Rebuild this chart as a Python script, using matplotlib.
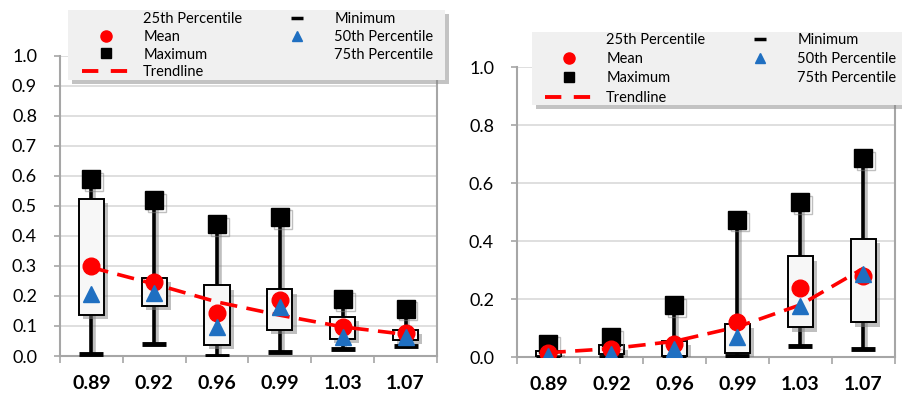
import matplotlib
matplotlib.use("Agg")
import matplotlib.pyplot as plt
import matplotlib.patheffects as pe
from matplotlib.lines import Line2D

plt.rcParams['font.family'] = ['Lato', 'DejaVu Sans']

categories = ['0.89', '0.92', '0.96', '0.99', '1.03', '1.07']

left_min = [0.008, 0.041, 0.0, 0.015, 0.025, 0.033]
left_q1 = [0.136, 0.167, 0.036, 0.088, 0.056, 0.055]
left_median = [0.205, 0.21, 0.097, 0.164, 0.063, 0.063]
left_q3 = [0.522, 0.26, 0.235, 0.222, 0.13, 0.088]
left_max = [0.59, 0.52, 0.44, 0.464, 0.19, 0.158]
left_mean = [0.30, 0.247, 0.144, 0.188, 0.097, 0.075]
left_trend = [0.295, 0.24, 0.18, 0.136, 0.097, 0.072]
left_yticks = [0.0, 0.1, 0.2, 0.3, 0.4, 0.5, 0.6, 0.7, 0.8, 0.9, 1.0]

right_min = [0.0, 0.0, 0.0, 0.002, 0.037, 0.027]
right_q1 = [0.0, 0.012, 0.003, 0.014, 0.102, 0.119]
right_median = [0.005, 0.01, 0.029, 0.069, 0.176, 0.287]
right_q3 = [0.021, 0.04, 0.055, 0.113, 0.347, 0.408]
right_max = [0.046, 0.069, 0.18, 0.474, 0.534, 0.686]
right_mean = [0.014, 0.029, 0.044, 0.121, 0.237, 0.281]
right_trend = [0.015, 0.029, 0.054, 0.104, 0.18, 0.306]
right_yticks = [0.0, 0.2, 0.4, 0.6, 0.8, 1.0]

legend_labels = ['25th Percentile', 'Mean', 'Maximum', 'Trendline',
                 'Minimum', '50th Percentile', '75th Percentile']

RED = '#ff0000'
BLUE = '#1f6fc1'
GRID = '#d9d9d9'
SPINE = '#a6a6a6'
W, H = 903, 395

line_shadow = [pe.SimpleLineShadow(offset=(2, -2), shadow_color='gray', alpha=0.5),
               pe.Normal()]
patch_shadow = [pe.SimplePatchShadow(offset=(3, -3), shadow_rgbFace='gray', alpha=0.5),
                pe.Normal()]


def draw_panel(ax, vmin, q1, med, q3, vmax, mean, trend, yticks):
    """
        Draws one box chart with mean, median and trendline.
    """
    x = list(range(1, len(categories) + 1))

    ax.vlines(x, vmin, vmax, colors='black', lw=2.6, zorder=2,
              path_effects=line_shadow)
    for xi, lo, hi in zip(x, q1, q3):
        rect = plt.Rectangle((xi - 0.2, lo), 0.4, hi - lo, facecolor='#f7f7f7',
                             edgecolor='black', lw=1.4, zorder=3,
                             path_effects=patch_shadow)
        ax.add_patch(rect)

    ax.plot(x, vmin, ls='none', marker='_', ms=17, mew=3.5, color='black', zorder=4)
    ax.plot(x, vmax, ls='none', marker='s', ms=13, color='black', zorder=4,
            path_effects=line_shadow)
    ax.plot(x, trend, ls=(0, (4.8, 2.6)), lw=2.6, color=RED, zorder=5)
    ax.plot(x, mean, ls='none', marker='o', ms=12, color=RED, zorder=6)
    ax.plot(x, med, ls='none', marker='^', ms=12, color=BLUE, zorder=7)

    ax.set_xlim(0.5, len(categories) + 0.5)
    ax.set_ylim(0, 1.0)
    ax.set_xticks(x)
    ax.set_xticklabels(categories, fontsize=14, fontweight='bold')
    ax.set_xticks([i + 0.5 for i in range(len(categories) + 1)], minor=True)
    ax.tick_params(axis='x', which='major', length=0, pad=14)
    ax.tick_params(axis='x', which='minor', length=5, color=SPINE, width=1.2)
    ax.set_yticks(yticks)
    ax.set_yticklabels([f'{v:.1f}' for v in yticks], fontsize=13)
    ax.tick_params(axis='y', length=4, color=SPINE, width=1.2, pad=12.5)
    ax.yaxis.grid(True, color=GRID, lw=1.2)
    ax.set_axisbelow(True)

    ax.spines['top'].set_visible(False)
    for side in ['left', 'bottom', 'right']:
        ax.spines[side].set_color(SPINE)
        ax.spines[side].set_linewidth(1.5)


def add_legend(fig, box, handle_x, top_y, spacing):
    """
        Adds the shared style legend on a grey box with a shadow.
        box is (left, top, right, bottom) in pixels from the top-left corner.
    """
    x0, y0, x1, y1 = box
    bg = plt.Rectangle((x0 / W, 1 - y1 / H), (x1 - x0) / W, (y1 - y0) / H,
                       transform=fig.transFigure, facecolor='#f0f0f0',
                       edgecolor='none', zorder=5,
                       path_effects=[pe.SimplePatchShadow(offset=(3, -3),
                                                          shadow_rgbFace='#888888',
                                                          alpha=0.5),
                                     pe.Normal()])
    fig.add_artist(bg)

    blank = Line2D([], [], ls='none')
    handles = [
        blank,
        Line2D([], [], ls='none', marker='o', ms=8, color=RED),
        Line2D([], [], ls='none', marker='s', ms=7, color='black'),
        Line2D([], [], ls=(0, (4.2, 3.2)), lw=2.8, color=RED),
        Line2D([], [], ls='none', marker='_', ms=8, mew=2.5, color='black'),
        Line2D([], [], ls='none', marker='^', ms=7, color=BLUE),
        blank,
    ]
    leg = fig.legend(handles, legend_labels, ncol=2, loc='upper left',
                     bbox_to_anchor=(handle_x / W, 1 - top_y / H),
                     bbox_transform=fig.transFigure, fontsize=10.5,
                     frameon=False, handlelength=3.3, handletextpad=0.9,
                     columnspacing=2.1, labelspacing=spacing, borderpad=0,
                     borderaxespad=0)
    leg.set_zorder(10)
    return leg


fig = plt.figure(figsize=(W / 100, H / 100), dpi=100)
ax1 = fig.add_axes([0.0664, 0.0987, 0.4175, 0.76])
ax2 = fig.add_axes([0.5725, 0.0962, 0.4186, 0.734])

draw_panel(ax1, left_min, left_q1, left_median, left_q3, left_max,
           left_mean, left_trend, left_yticks)
draw_panel(ax2, right_min, right_q1, right_median, right_q3, right_max,
           right_mean, right_trend, right_yticks)

add_legend(fig, (68, 10, 445, 80), 82, 12, 0.26)
add_legend(fig, (532, 32, 906, 105), 545, 33, 0.36)

fig.savefig('out.png', dpi=100)
